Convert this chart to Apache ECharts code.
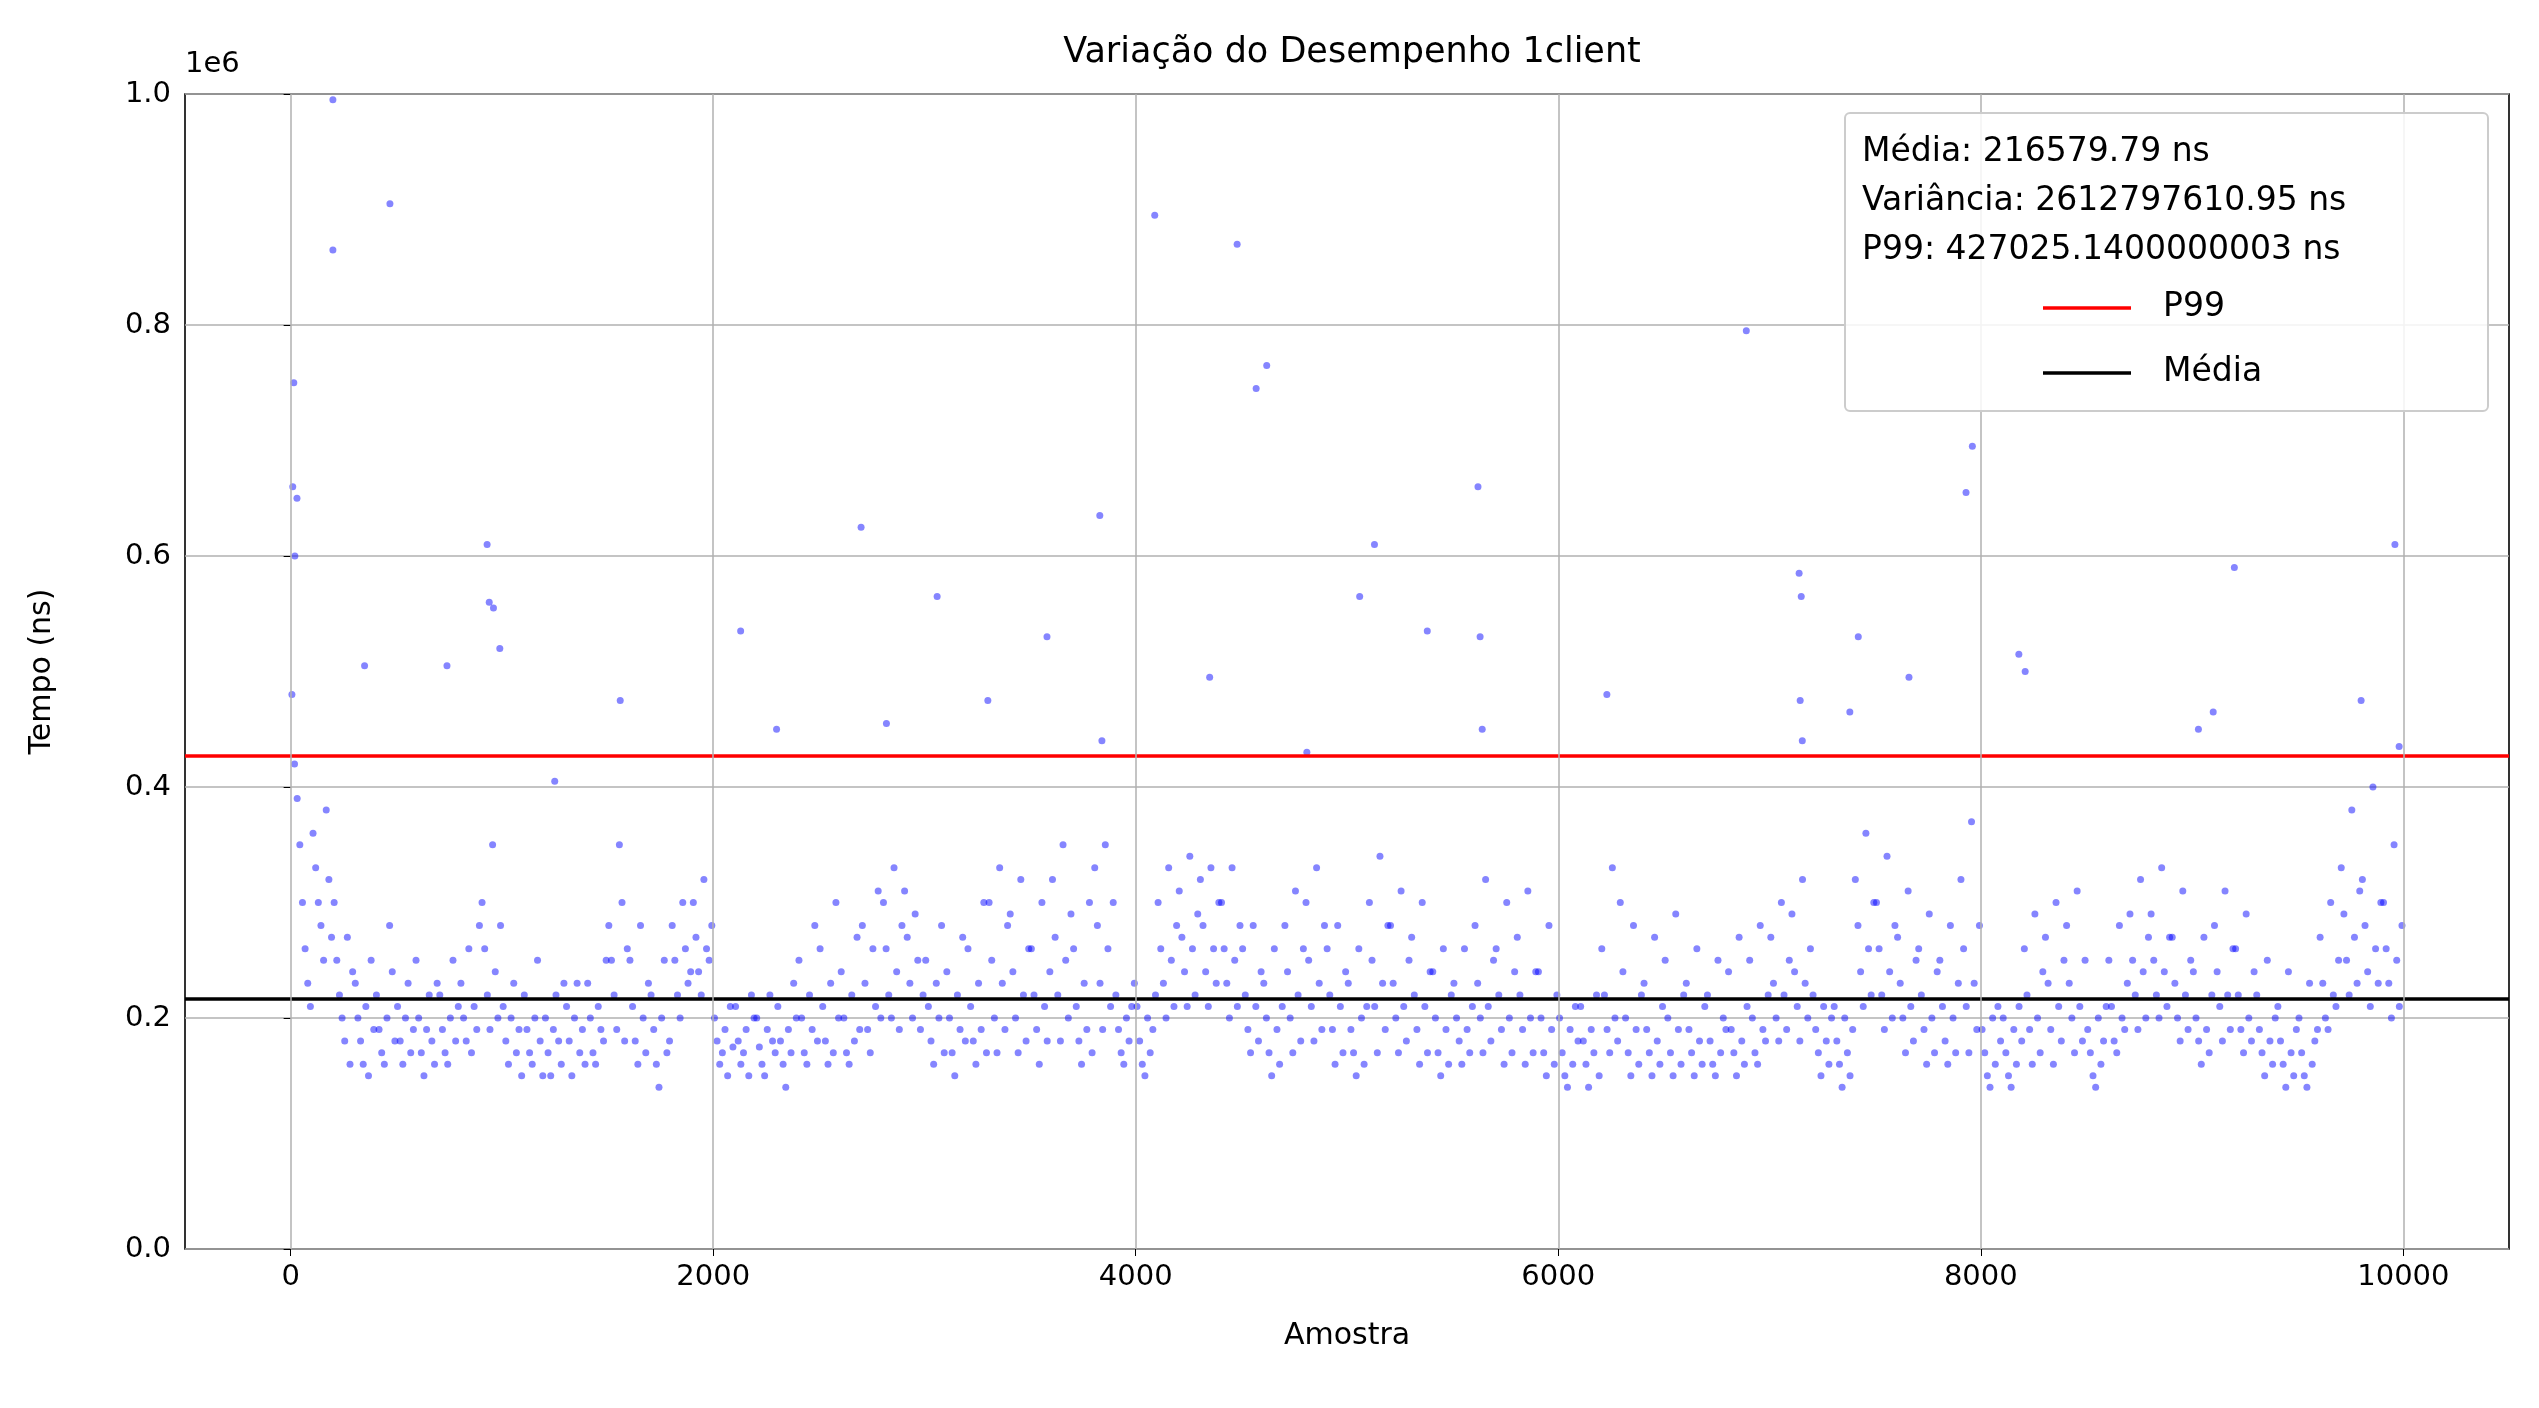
<!DOCTYPE html>
<html>
<head>
<meta charset="utf-8">
<script src="https://cdn.jsdelivr.net/npm/echarts@6/dist/echarts.min.js"></script>
<style>html,body{margin:0;padding:0;background:#fff}#c{width:2539px;height:1408px}</style>
</head>
<body>
<div id="c"></div>
<script>
// values, in thousands of ns; each row covers 100 samples
const blocks = [
[480,420,390,350,300,260,230,210],[360,330,300,280,250,380,320,270],[300,250,220,200,180,270,160,240],[230,200,180,160,210,150,250,190],
[220,190,170,160,200,280,240,180],[210,180,160,200,230,170,190,250],[200,170,150,190,220,180,160,230],[220,190,170,160,200,250,180,210],
[230,200,180,260,170,210,190,280],[300,260,220,190,350,240,200,280],[210,180,160,200,230,170,190,150],[220,190,170,160,200,250,180,150],
[200,170,150,190,220,180,160,230],[210,180,150,200,230,170,190,160],[230,200,170,160,210,190,180,250],[280,250,220,190,350,300,180,260],
[250,210,180,160,280,200,170,230],[220,190,160,140,200,250,170,180],[280,250,220,200,300,260,230,240],[300,270,240,220,320,260,250,280],
[200,180,160,170,190,150,210,175],[210,180,160,170,190,150,220,200],[200,175,160,150,190,220,180,170],[210,180,160,140,190,170,230,200],
[250,200,170,160,220,190,280,180],[260,210,180,160,230,170,300,200],[240,200,170,160,220,180,270,190],[280,230,190,170,260,210,310,200],
[300,260,220,200,330,240,190,280],[310,270,230,200,290,250,190,220],[250,210,180,160,230,200,280,170],[240,200,170,150,220,190,270,180],
[260,210,180,160,230,190,300,170],[300,250,200,170,330,230,190,280],[290,240,200,170,320,220,180,260],[260,220,190,160,300,210,180,240],
[320,270,220,180,350,250,200,290],[260,210,180,160,230,190,300,170],[330,280,230,190,350,260,210,300],[220,190,170,160,200,180,210,230],
[210,180,160,150,200,170,190,220],[300,260,230,200,330,250,210,280],[310,270,240,210,340,260,220,290],[320,280,240,210,330,260,230,300],
[300,260,230,200,330,250,210,280],[260,220,190,170,280,210,180,240],[230,200,170,150,260,190,160,210],[280,240,200,170,310,220,180,260],
[300,250,210,180,330,230,190,280],[260,220,190,160,280,210,170,240],[230,190,170,150,260,200,160,210],[300,250,210,170,340,230,190,280],
[280,230,200,170,310,210,180,250],[270,220,190,160,300,210,170,240],[240,200,170,150,260,190,160,220],[230,200,180,160,260,190,170,210],
[280,230,200,170,320,210,180,250],[260,220,190,160,300,200,170,240],[270,220,190,160,310,200,170,240],[240,200,170,150,280,190,160,220],
[200,170,150,140,190,160,210,180],[210,180,160,140,190,170,220,150],[260,220,190,170,330,200,180,300],[240,200,170,150,280,190,160,220],
[230,190,170,150,270,180,160,210],[250,200,170,150,290,190,160,220],[230,190,170,150,260,180,160,210],[220,180,160,150,250,170,200,190],
[240,190,170,150,270,180,160,210],[250,200,170,160,280,190,180,220],[270,230,200,180,300,220,190,250],[290,240,210,180,320,230,200,260],
[220,190,170,150,210,180,160,200],[210,180,160,140,200,170,150,190],[320,280,240,210,360,260,220,300],[300,260,220,190,340,240,200,280],
[270,230,200,170,310,210,180,250],[260,220,190,160,290,200,170,240],[250,210,180,160,280,200,170,230],[320,260,210,170,370,230,190,280],
[190,170,150,140,200,160,210,180],[200,170,150,140,190,160,210,180],[260,220,190,160,290,200,170,240],[270,230,190,160,300,210,180,250],
[280,230,200,170,310,210,180,250],[190,170,150,140,200,160,180,210],[250,210,180,170,280,200,190,230],[290,250,220,190,320,240,200,270],
[290,250,220,200,330,240,210,270],[270,230,200,180,310,220,190,250],[240,200,180,160,270,190,170,220],[280,240,210,180,310,220,190,260],
[260,220,190,170,290,200,180,240],[220,190,170,150,250,180,160,200],[210,180,160,140,240,170,150,190],[200,170,150,140,230,160,180,190],
[270,230,200,190,300,220,210,250],[330,290,250,220,380,270,230,310],[320,280,240,210,400,260,230,300],[300,260,230,200,350,250,210,280]
];
const outlierX = [10,15,20,30,200,200,470,350,740,930,940,960,990,1250,1560,2130,2300,2700,2820,3060,3300,3580,3830,3840,4090,4350,4480,4570,4620,4810,5060,5130,5380,5620,5630,5640,6230,6890,7140,7150,7145,7155,7380,7420,7660,7930,7960,8180,8210,9030,9100,9200,9800,9960,9980];
const outlierY = [660,750,600,650,995,865,905,505,505,610,560,555,520,405,475,535,450,625,455,565,475,530,635,440,895,495,870,745,765,430,565,610,535,660,530,450,480,795,585,565,475,440,465,530,495,655,695,515,500,450,465,590,475,610,435];
const xTicks = [0, 2000, 4000, 6000, 8000, 10000];
const mean = 216579.79;
const p99 = 427025.1400000003;
const statLines = ['Média: 216579.79 ns', 'Variância: 2612797610.95 ns', 'P99: 427025.1400000003 ns'];

const points = [];
blocks.forEach((vals, b) => {
  vals.forEach((v, i) => points.push([b * 100 + i * 100 / vals.length + 6, v * 1000]));
});
outlierX.forEach((x, i) => points.push([x, outlierY[i] * 1000]));

const font = 'DejaVu Sans';
const grey = { color: '#b0b0b0', width: 1.5, type: 'solid' };
const chart = echarts.init(document.getElementById('c'));
chart.setOption({
  animation: false,
  backgroundColor: '#fff',
  textStyle: { fontFamily: font },
  title: { text: 'Variação do Desempenho 1client', left: 1347, top: 30, textAlign: 'center',
    textStyle: { fontFamily: font, fontSize: 35, fontWeight: 'normal', color: '#000' } },
  grid: { left: 185, right: 30, top: 94, bottom: 159, show: true, borderColor: '#000', borderWidth: 1.6 },
  xAxis: { type: 'value', min: -500, max: 10500,
    name: 'Amostra', nameLocation: 'middle', nameGap: 72, nameTextStyle: { fontSize: 30, color: '#000' },
    axisLine: { show: false },
    axisTick: { show: true, length: 7, lineStyle: { color: '#000' }, customValues: xTicks },
    axisLabel: { fontSize: 29, color: '#000', margin: 14, customValues: xTicks, formatter: v => String(v) },
    splitLine: { show: false } },
  yAxis: { type: 'value', min: 0, max: 1000000, interval: 200000,
    name: 'Tempo (ns)', nameLocation: 'middle', nameGap: 128, nameTextStyle: { fontSize: 30, color: '#000' },
    axisLine: { show: false }, axisTick: { show: true, length: 7, lineStyle: { color: '#000' } },
    axisLabel: { fontSize: 29, color: '#000', margin: 14, formatter: v => (v / 1e6).toFixed(1) },
    splitLine: { show: true, lineStyle: grey } },
  series: [
    { type: 'scatter', data: points, symbolSize: 7, itemStyle: { color: 'rgba(0,0,255,0.6)' }, z: 3 },
    { type: 'line', data: [], markLine: { silent: true, symbol: 'none', label: { show: false },
      data: [
        { yAxis: p99, lineStyle: { color: '#ff0000', width: 3.5, type: 'solid' } },
        { yAxis: mean, lineStyle: { color: '#000', width: 3.5, type: 'solid' } }
      ].concat(xTicks.map(t => ({ xAxis: t, lineStyle: grey }))) }, z: 1 }
  ],
  graphic: [
    { type: 'text', left: 185, top: 50, style: { text: '1e6', fontSize: 29, fill: '#000', fontFamily: font } },
    { type: 'rect', shape: { x: 1845, y: 113, width: 643, height: 298, r: 5 },
      style: { fill: 'rgba(255,255,255,0.85)', stroke: '#cccccc', lineWidth: 2 }, z: 10 },
    { type: 'text', x: 1862, y: 128, z: 11, style: { text: statLines.join('\n'), fontSize: 33, lineHeight: 49, fill: '#000', fontFamily: font } },
    { type: 'line', z: 11, shape: { x1: 2043, y1: 308, x2: 2131, y2: 308 }, style: { stroke: '#ff0000', lineWidth: 3.5 } },
    { type: 'text', z: 11, x: 2163, y: 291, style: { text: 'P99', fontSize: 33, fill: '#000', fontFamily: font } },
    { type: 'line', z: 11, shape: { x1: 2043, y1: 373, x2: 2131, y2: 373 }, style: { stroke: '#000', lineWidth: 3.5 } },
    { type: 'text', z: 11, x: 2163, y: 356, style: { text: 'Média', fontSize: 33, fill: '#000', fontFamily: font } }
  ]
});
</script>
</body>
</html>
